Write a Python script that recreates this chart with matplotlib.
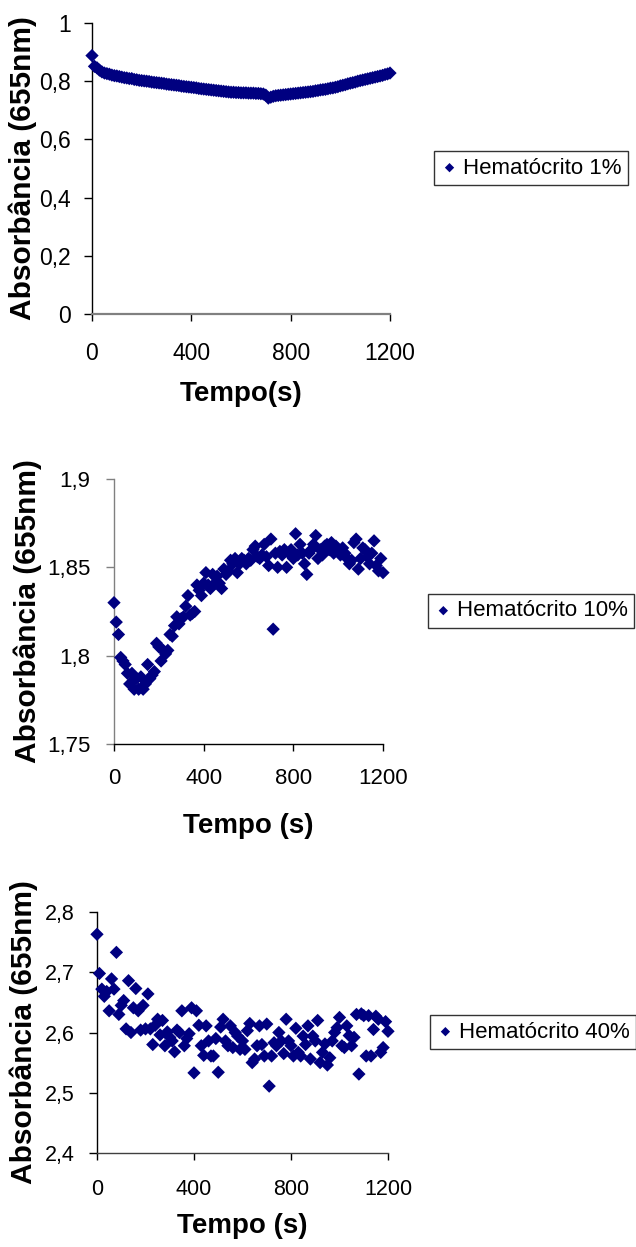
import matplotlib
matplotlib.use("Agg")
import matplotlib.pyplot as plt
from matplotlib.ticker import FuncFormatter

plt.rcParams["font.family"] = ["Liberation Sans", "DejaVu Sans"]

# ── Data (absorbance at 655 nm, one reading every 10 s) ────────────────
tempo = list(range(0, 1201, 10))

hemat_1 = [
    0.888, 0.851, 0.846, 0.838, 0.832, 0.828, 0.826, 0.824, 0.821, 0.819,
    0.818, 0.816, 0.814, 0.812, 0.811, 0.809, 0.809, 0.806, 0.805, 0.803,
    0.802, 0.801, 0.800, 0.799, 0.797, 0.796, 0.795, 0.794, 0.793, 0.792,
    0.790, 0.789, 0.788, 0.787, 0.786, 0.785, 0.783, 0.782, 0.781, 0.780,
    0.779, 0.778, 0.777, 0.775, 0.774, 0.773, 0.772, 0.771, 0.770, 0.769,
    0.768, 0.767, 0.766, 0.765, 0.764, 0.763, 0.762, 0.762, 0.761, 0.761,
    0.760, 0.760, 0.760, 0.759, 0.759, 0.759, 0.758, 0.758, 0.757, 0.756,
    0.752, 0.742, 0.745, 0.748, 0.750, 0.751, 0.752, 0.753, 0.754, 0.755,
    0.756, 0.757, 0.758, 0.759, 0.760, 0.761, 0.762, 0.763, 0.764, 0.765,
    0.767, 0.768, 0.770, 0.771, 0.772, 0.774, 0.776, 0.777, 0.779, 0.781,
    0.784, 0.786, 0.788, 0.791, 0.793, 0.795, 0.797, 0.800, 0.802, 0.804,
    0.806, 0.808, 0.810, 0.812, 0.814, 0.816, 0.818, 0.820, 0.823, 0.825,
    0.828,
]

hemat_10 = [
    1.830, 1.819, 1.812, 1.799, 1.797, 1.795, 1.790, 1.784, 1.790, 1.781,
    1.787, 1.781, 1.788, 1.781, 1.784, 1.795, 1.787, 1.789, 1.791, 1.807,
    1.805, 1.797, 1.803, 1.801, 1.803, 1.812, 1.811, 1.817, 1.822, 1.818,
    1.821, 1.822, 1.828, 1.834, 1.823, 1.824, 1.825, 1.840, 1.837, 1.834,
    1.841, 1.847, 1.840, 1.838, 1.846, 1.841, 1.845, 1.841, 1.838, 1.849,
    1.846, 1.848, 1.854, 1.852, 1.855, 1.847, 1.852, 1.855, 1.854, 1.852,
    1.855, 1.854, 1.860, 1.862, 1.856, 1.855, 1.857, 1.863, 1.856, 1.851,
    1.866, 1.815, 1.858, 1.850, 1.859, 1.857, 1.860, 1.850, 1.858, 1.860,
    1.855, 1.869, 1.857, 1.863, 1.858, 1.852, 1.846, 1.858, 1.860, 1.863,
    1.868, 1.855, 1.860, 1.857, 1.862, 1.863, 1.860, 1.864, 1.858, 1.862,
    1.860, 1.857, 1.861, 1.858, 1.855, 1.852, 1.854, 1.864, 1.866, 1.849,
    1.855, 1.861, 1.860, 1.856, 1.852, 1.858, 1.865, 1.851, 1.848, 1.855,
    1.847,
]

hemat_40 = [
    2.763, 2.698, 2.672, 2.660, 2.668, 2.636, 2.689, 2.672, 2.733, 2.630,
    2.645, 2.653, 2.606, 2.686, 2.600, 2.641, 2.673, 2.636, 2.604, 2.645,
    2.606, 2.664, 2.606, 2.580, 2.612, 2.622, 2.596, 2.620, 2.578, 2.601,
    2.592, 2.586, 2.568, 2.604, 2.600, 2.636, 2.578, 2.590, 2.598, 2.641,
    2.533, 2.636, 2.612, 2.578, 2.562, 2.611, 2.586, 2.561, 2.561, 2.590,
    2.534, 2.609, 2.622, 2.586, 2.578, 2.611, 2.575, 2.600, 2.594, 2.572,
    2.586, 2.572, 2.603, 2.615, 2.550, 2.556, 2.578, 2.611, 2.580, 2.561,
    2.614, 2.511, 2.561, 2.583, 2.578, 2.600, 2.586, 2.565, 2.622, 2.586,
    2.578, 2.561, 2.607, 2.567, 2.561, 2.594, 2.580, 2.611, 2.556, 2.594,
    2.586, 2.620, 2.550, 2.567, 2.581, 2.546, 2.558, 2.586, 2.600, 2.608,
    2.625, 2.578, 2.575, 2.611, 2.595, 2.578, 2.592, 2.630, 2.531, 2.631,
    2.628, 2.561, 2.628, 2.561, 2.605, 2.627, 2.622, 2.567, 2.575, 2.618,
    2.602,
]

series = [hemat_1, hemat_10, hemat_40]
legend_labels = ["Hematócrito 1%", "Hematócrito 10%", "Hematócrito 40%"]
x_labels = ["Tempo(s)", "Tempo (s)", "Tempo (s)"]
y_label = "Absorbância (655nm)"
x_ticks = [0, 400, 800, 1200]
y_ticks = [
    [0, 0.2, 0.4, 0.6, 0.8, 1.0],
    [1.75, 1.8, 1.85, 1.9],
    [2.4, 2.5, 2.6, 2.7, 2.8],
]

# ── Layout (pixel boxes measured on the 636x1247 reference) ────────────
W, H = 636, 1247
NAVY = "#000080"

# left, right, top, bottom of each plot area
boxes = [(92, 390, 23, 314), (114, 383, 479, 744), (97, 388, 912, 1153)]
left_spine = ["black", "#808080", "black"]
bottom_spine = ["#808080", "black", "#404040"]
ylab_right = [37, 42, 38]
xlab_top = [381, 813, 1213]
xtick_pad = [15, 12, 14]
ytick_pad = [9, 11, 10]
tick_size = [16.5, 16, 15.5]
legend_centers = [(531, 168), (531, 611), (533, 1032)]

fig = plt.figure(figsize=(W / 100, H / 100), dpi=100)

comma = FuncFormatter(lambda v, pos: f"{v:g}".replace(".", ","))

for i, vals in enumerate(series):
    l, r, t, b = boxes[i]
    ax = fig.add_axes([l / W, 1 - b / H, (r - l) / W, (b - t) / H])

    ax.scatter(tempo, vals, marker="D", s=46, color=NAVY,
               edgecolors="none", clip_on=False, zorder=3,
               label=legend_labels[i])

    ax.set_xlim(0, 1200)
    ax.set_ylim(y_ticks[i][0], y_ticks[i][-1])
    ax.set_xticks(x_ticks)
    ax.set_yticks(y_ticks[i])
    ax.yaxis.set_major_formatter(comma)

    for side in ["top", "right"]:
        ax.spines[side].set_visible(False)
    ax.spines["left"].set_color(left_spine[i])
    ax.spines["bottom"].set_color(bottom_spine[i])
    ax.spines["left"].set_linewidth(1.0)
    ax.spines["bottom"].set_linewidth(1.6 if i == 0 else 1.0)

    ax.tick_params(axis="y", direction="out", length=6, width=1,
                   color=left_spine[i], labelsize=tick_size[i],
                   pad=ytick_pad[i])
    ax.tick_params(axis="x", direction="out", length=5, width=1,
                   color="black", labelsize=tick_size[i], pad=xtick_pad[i])

    ax.set_xlabel(x_labels[i], fontsize=20, fontweight="bold")
    ax.xaxis.set_label_coords((l + r) / 2 / W, 1 - xlab_top[i] / H,
                              transform=fig.transFigure)
    ax.set_ylabel(y_label, fontsize=21.5, fontweight="bold")
    ax.yaxis.set_label_coords(ylab_right[i] / W, 1 - (t + b) / 2 / H,
                              transform=fig.transFigure)

    cx, cy = legend_centers[i]
    leg = ax.legend(loc="center", bbox_to_anchor=(cx / W, 1 - cy / H),
                    bbox_transform=fig.transFigure, fontsize=16,
                    frameon=True, fancybox=False, handletextpad=0.2,
                    handlelength=0.8, borderpad=0.3, markerscale=0.7,
                    borderaxespad=0)
    leg.get_frame().set_edgecolor("black")
    leg.get_frame().set_linewidth(1.0)

plt.savefig("out.png", dpi=100)
